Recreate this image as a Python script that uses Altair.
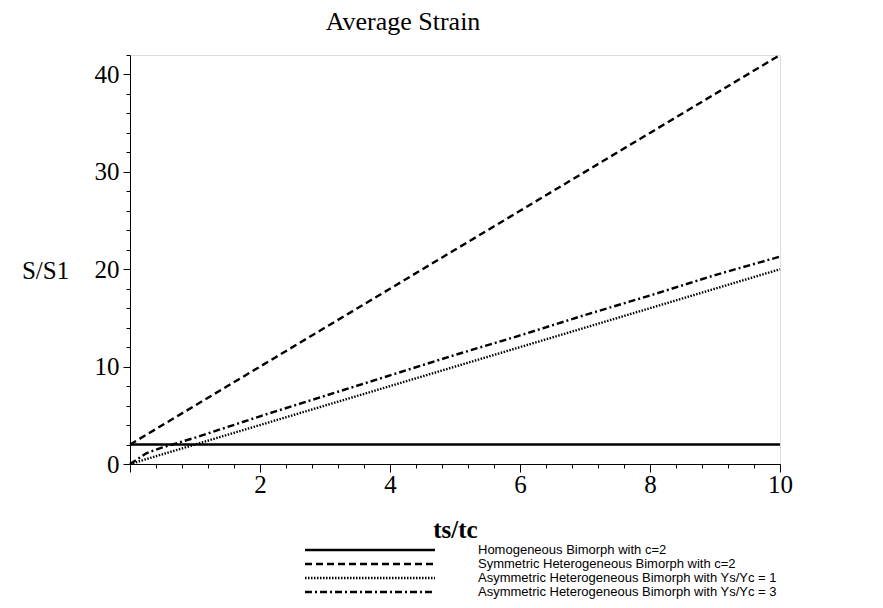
import altair as alt
import pandas as pd

# ---- data ----
ts_tc = [0, 0.25, 0.5, 1, 1.5, 2, 3, 4, 5, 6, 7, 8, 9, 10]
homogeneous = [2, 2, 2, 2, 2, 2, 2, 2, 2, 2, 2, 2, 2, 2]
symmetric = [2, 3, 4, 6, 8, 10, 14, 18, 22, 26, 30, 34, 38, 42]
asym_1 = [0, 0.5, 1, 2, 3, 4, 6, 8, 10, 12, 14, 16, 18, 20]
asym_3 = [0, 1.1, 1.7, 2.7, 3.8, 4.9, 7.0, 9.1, 11.2, 13.2, 15.3, 17.3, 19.4, 21.3]

series_names = [
    "Homogeneous Bimorph with c=2",
    "Symmetric Heterogeneous Bimorph with c=2",
    "Asymmetric Heterogeneous Bimorph with Ys/Yc = 1",
    "Asymmetric Heterogeneous Bimorph with Ys/Yc = 3",
]
series_values = [homogeneous, symmetric, asym_1, asym_3]
dash_styles = [[1, 0], [7, 4], [1.5, 1.5], [7, 3, 2, 3]]

x_tick_values = [round(i * 0.4, 1) for i in range(26)]
y_tick_values = list(range(0, 43, 2))

rows = []
for name, vals in zip(series_names, series_values):
    for xv, yv in zip(ts_tc, vals):
        rows.append({"x": xv, "y": yv, "series": name})
df = pd.DataFrame(rows)

SERIF = "Liberation Serif"

x_axis = alt.Axis(
    title="ts/tc",
    values=x_tick_values,
    labelExpr="(abs(datum.value - round(datum.value/2)*2) < 0.01 && datum.value > 0) ? format(datum.value, 'd') : ''",
    labelOverlap=False,
    labelFlush=False,
    labelFont=SERIF,
    labelFontSize=25,
    labelColor="black",
    labelPadding=0,
    tickSize={"condition": {"test": "abs(datum.value - round(datum.value/2)*2) < 0.01", "value": 8}, "value": 4},
    tickColor="black",
    domainColor="black",
    grid=False,
    titleFont=SERIF,
    titleFontSize=25,
    titleFontWeight="bold",
    titleColor="black",
    titleBaseline="alphabetic",
    titleY=73,
)

y_axis = alt.Axis(
    title="S/S1",
    values=y_tick_values,
    labelExpr="(datum.value % 10 === 0) ? format(datum.value, 'd') : ''",
    labelOverlap=False,
    labelFlush=False,
    labelFont=SERIF,
    labelFontSize=25,
    labelColor="black",
    labelPadding=4,
    tickSize={"condition": {"test": "datum.value % 10 === 0", "value": 7}, "value": 4},
    tickColor="black",
    domainColor="black",
    grid=False,
    titleFont=SERIF,
    titleFontSize=25,
    titleFontWeight="normal",
    titleColor="black",
    titleAngle=0,
    titleAlign="center",
    titleBaseline="middle",
    titleX=-85,
    titleY=215,
)

chart = (
    alt.Chart(df)
    .mark_line(color="black", strokeWidth=2.4)
    .encode(
        x=alt.X("x:Q", scale=alt.Scale(domain=[0, 10], nice=False), axis=x_axis),
        y=alt.Y("y:Q", scale=alt.Scale(domain=[0, 42], nice=False), axis=y_axis),
        strokeDash=alt.StrokeDash(
            "series:N",
            scale=alt.Scale(domain=series_names, range=dash_styles),
            legend=alt.Legend(
                title=None,
                orient="none",
                legendX=233.5,
                legendY=488.5,
                symbolType="M-13,0H13",
                symbolSize=100,
                symbolStrokeWidth=2.4,
                symbolStrokeColor="black",
                labelFont="Liberation Sans",
                labelFontSize=13,
                labelColor="black",
                labelOffset=101.5,
                labelLimit=400,
                rowPadding=0,
                padding=0,
            ),
        ),
        order="x:Q",
    )
    .properties(
        width=650,
        height=409,
        title=alt.TitleParams(
            "Average Strain",
            font=SERIF,
            fontSize=26,
            fontWeight="normal",
            color="black",
            anchor="middle",
            dx=-52,
            offset=8,
        ),
        autosize=alt.AutoSizeParams(type="none"),
        padding={"left": 122, "top": 47, "right": 80, "bottom": 140},
    )
    .configure_view(strokeWidth=0, stroke="transparent")
    .configure(background="white")
)

chart.save("out.html", embed_options={"renderer": "svg", "actions": False})
